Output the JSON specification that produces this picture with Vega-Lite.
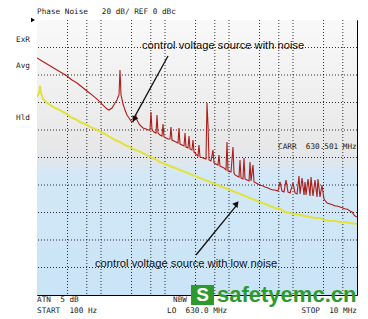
{
  "$schema": "https://vega.github.io/schema/vega-lite/v6.json",
  "width": 320,
  "height": 275,
  "autosize": "none",
  "padding": {"left": 37, "top": 20, "right": 11, "bottom": 24},
  "background": "#ffffff",
  "config": {
    "view": {"stroke": "#000000", "strokeWidth": 1},
    "axis": {"disable": true}
  },
  "datasets": {
    "red": [
      {"f":100,"db":-27.6},{"f":119.7,"db":-29.8},{"f":143.3,"db":-32.0},{"f":171.5,"db":-34.2},{"f":205.4,"db":-36.4},{"f":245.8,"db":-38.5},{"f":294.3,"db":-40.7},{"f":352.3,"db":-43.6},{"f":421.7,"db":-45.8},{"f":504.8,"db":-48.7},{"f":604.3,"db":-51.6},{"f":723.4,"db":-54.5},{"f":866.0,"db":-57.5},{"f":1000,"db":-60.4},{"f":1154.8,"db":-63.3},{"f":1240.9,"db":-64.7},{"f":1333.5,"db":-65.5},{"f":1485.5,"db":-64.0},{"f":1654.8,"db":-60.4},{"f":1778.3,"db":-58.2},{"f":1843.4,"db":-56.0},{"f":1911,"db":-54.5},{"f":1981,"db":-36.4},{"f":2053.5,"db":-54.5},{"f":2128.8,"db":-57.5},{"f":2206.7,"db":-61.1},{"f":2371.4,"db":-65.5},{"f":2548.3,"db":-69.1},{"f":2738.4,"db":-71.3},{"f":2942.7,"db":-73.5},{"f":3162.3,"db":-74.2},{"f":3398.2,"db":-71.3},{"f":3522.7,"db":-69.8},{"f":3651.7,"db":-72.7},{"f":3924.2,"db":-75.6},{"f":4217,"db":-77.1},{"f":4531.6,"db":-78.5},{"f":5048.1,"db":-79.3},{"f":5424.7,"db":-80.0},{"f":5829.4,"db":-80.0},{"f":6043,"db":-66.9},{"f":6264.3,"db":-80.0},{"f":6731.7,"db":-81.5},{"f":7233.9,"db":-82.2},{"f":7498.9,"db":-69.1},{"f":7773.7,"db":-82.2},{"f":8353.6,"db":-83.6},{"f":8976.9,"db":-84.4},{"f":9305.7,"db":-75.6},{"f":9646.6,"db":-85.1},{"f":10366,"db":-85.8},{"f":11140,"db":-86.5},{"f":11971,"db":-86.5},{"f":12409,"db":-77.8},{"f":12864,"db":-87.3},{"f":13824,"db":-88.0},{"f":14855,"db":-88.7},{"f":15963,"db":-89.5},{"f":16548,"db":-78.5},{"f":17154,"db":-90.2},{"f":18434,"db":-90.9},{"f":19810,"db":-91.6},{"f":20535,"db":-82.2},{"f":21288,"db":-92.4},{"f":22876,"db":-93.1},{"f":23714,"db":-84.4},{"f":24582,"db":-93.8},{"f":26416,"db":-94.5},{"f":27384,"db":-87.3},{"f":28387,"db":-96.0},{"f":30505,"db":-97.5},{"f":32781,"db":-98.9},{"f":33982,"db":-90.9},{"f":35227,"db":-99.6},{"f":39242,"db":-100.4},{"f":43714,"db":-101.1},{"f":45316,"db":-60.4},{"f":46976,"db":-76.4},{"f":48697,"db":-101.8},{"f":52330,"db":-102.5},{"f":56234,"db":-94.5},{"f":58294,"db":-104.0},{"f":62643,"db":-104.7},{"f":67317,"db":-105.5},{"f":69783,"db":-98.2},{"f":72339,"db":-106.2},{"f":77737,"db":-106.9},{"f":83536,"db":-107.6},{"f":89769,"db":-109.1},{"f":93057,"db":-88.7},{"f":96466,"db":-109.8},{"f":107460,"db":-110.5},{"f":115480,"db":-92.4},{"f":119710,"db":-111.3},{"f":124090,"db":-112.7},{"f":133350,"db":-113.5},{"f":143300,"db":-114.2},{"f":148550,"db":-101.8},{"f":153990,"db":-114.9},{"f":165480,"db":-115.6},{"f":171540,"db":-100.4},{"f":177830,"db":-115.6},{"f":191100,"db":-116.4},{"f":205350,"db":-117.1},{"f":212880,"db":-103.3},{"f":220670,"db":-117.1},{"f":237140,"db":-105.5},{"f":245820,"db":-117.8},{"f":264160,"db":-118.5},{"f":283870,"db":-119.3},{"f":305050,"db":-120.0},{"f":339820,"db":-120.7},{"f":365170,"db":-121.5},{"f":406790,"db":-122.2},{"f":437140,"db":-122.9},{"f":486970,"db":-123.6},{"f":523300,"db":-123.6},{"f":582940,"db":-124.4},{"f":626430,"db":-117.8},{"f":673170,"db":-124.4},{"f":723390,"db":-125.1},{"f":777370,"db":-116.4},{"f":835360,"db":-125.1},{"f":897690,"db":-125.8},{"f":1000000,"db":-118.5},{"f":1074600,"db":-125.8},{"f":1154800,"db":-126.5},{"f":1240900,"db":-113.5},{"f":1286400,"db":-126.5},{"f":1382400,"db":-114.9},{"f":1485500,"db":-127.3},{"f":1539900,"db":-117.8},{"f":1596300,"db":-127.3},{"f":1715400,"db":-115.6},{"f":1843400,"db":-128.0},{"f":1911000,"db":-114.2},{"f":2053500,"db":-128.0},{"f":2206700,"db":-116.4},{"f":2371400,"db":-128.7},{"f":2458200,"db":-115.6},{"f":2641600,"db":-128.7},{"f":2838700,"db":-120.0},{"f":3050500,"db":-130.2},{"f":3398200,"db":-133.1},{"f":3785500,"db":-133.8},{"f":4217000,"db":-134.5},{"f":4531600,"db":-135.3},{"f":4869700,"db":-135.3},{"f":5424700,"db":-136.0},{"f":6043000,"db":-136.7},{"f":6493800,"db":-137.5},{"f":6978300,"db":-137.5},{"f":7773700,"db":-138.9},{"f":8353600,"db":-139.6},{"f":8976900,"db":-141.8},{"f":9305700,"db":-142.5},{"f":10000000,"db":-143.3}
    ],
    "yellow": [
      {"f":100,"db":-56.0},{"f":107.5,"db":-53.1},{"f":111.4,"db":-48.0},{"f":115.5,"db":-53.1},{"f":124.1,"db":-57.5},{"f":138.2,"db":-59.6},{"f":159.6,"db":-61.8},{"f":191.1,"db":-64.0},{"f":228.8,"db":-65.5},{"f":254.8,"db":-66.9},{"f":294.3,"db":-68.4},{"f":327.8,"db":-70.5},{"f":392.4,"db":-72.0},{"f":469.8,"db":-74.2},{"f":562.3,"db":-75.6},{"f":673.2,"db":-77.8},{"f":805.8,"db":-79.3},{"f":866,"db":-80.0},{"f":1000,"db":-81.5},{"f":1154.8,"db":-82.9},{"f":1382.4,"db":-85.1},{"f":1654.8,"db":-87.3},{"f":1981,"db":-88.7},{"f":2371.4,"db":-90.9},{"f":2838.7,"db":-92.4},{"f":3398.2,"db":-94.5},{"f":4217,"db":-96.0},{"f":4869.7,"db":-97.5},{"f":5829.4,"db":-99.6},{"f":6978.3,"db":-101.1},{"f":8353.6,"db":-103.3},{"f":10000,"db":-104.7},{"f":11971,"db":-106.2},{"f":14330,"db":-107.6},{"f":17154,"db":-109.1},{"f":20535,"db":-110.5},{"f":24582,"db":-112.0},{"f":29427,"db":-113.5},{"f":35227,"db":-114.9},{"f":42170,"db":-116.4},{"f":50481,"db":-117.8},{"f":60430,"db":-119.3},{"f":72339,"db":-120.7},{"f":86596,"db":-122.2},{"f":103660,"db":-123.6},{"f":124090,"db":-125.1},{"f":148550,"db":-126.5},{"f":177830,"db":-128.0},{"f":212880,"db":-129.5},{"f":254830,"db":-130.9},{"f":305050,"db":-132.4},{"f":365170,"db":-133.8},{"f":437140,"db":-135.3},{"f":523300,"db":-136.7},{"f":626430,"db":-137.5},{"f":749890,"db":-139.6},{"f":897690,"db":-140.4},{"f":1074600,"db":-141.1},{"f":1286400,"db":-141.8},{"f":1539900,"db":-142.5},{"f":1843400,"db":-143.3},{"f":2206700,"db":-144.0},{"f":2641600,"db":-144.0},{"f":3162300,"db":-145.5},{"f":3785500,"db":-146.2},{"f":4531600,"db":-146.2},{"f":5424700,"db":-146.9},{"f":6493800,"db":-146.9},{"f":7773700,"db":-147.6},{"f":10000000,"db":-148.4}
    ],
    "gridX": [
      {"f":300},{"f":600},{"f":1000},{"f":3000},{"f":6000},{"f":10000},{"f":30000},{"f":60000},{"f":100000},{"f":300000},{"f":600000},{"f":1000000},{"f":3000000},{"f":6000000}
    ],
    "gridY": [
      {"db":-20},{"db":-40},{"db":-60},{"db":-80},{"db":-100},{"db":-120},{"db":-140},{"db":-160},{"db":-180}
    ],
    "monoLeft": [
      {"f":100,"db":5.5,"t":"Phase Noise\u00a0\u00a0\u00a020 dB/ REF 0 dBc"},
      {"f":100,"db":-203.6,"t":"ATN\u00a0\u00a05 dB"},
      {"f":100,"db":-211.6,"t":"START\u00a0\u00a0100 Hz"},
      {"f":13335,"db":-203.6,"t":"NBW"},
      {"f":10746,"db":-211.6,"t":"LO\u00a0\u00a0630.0 MHz"},
      {"f":582940,"db":-92.4,"t":"CARR\u00a0\u00a0630.501 MHz"}
    ],
    "monoRight": [
      {"f":77.7,"db":-14.5,"t":"ExR"},
      {"f":77.7,"db":-33.5,"t":"Avg"},
      {"f":77.7,"db":-71.3,"t":"Hld"},
      {"f":10000000,"db":-211.6,"t":"STOP\u00a0\u00a010 MHz"}
    ],
    "notes": [
      {"f":4371,"db":-18.9,"t":"control voltage source with noise"},
      {"f":805.8,"db":-177.5,"t":"control voltage source with low noise"}
    ]
  },
  "layer": [
    {
      "data": {"values": [{"f0":100,"f1":10000000,"d0":-200,"d1":0}]},
      "mark": {"type":"rect","color":{"gradient":"linear","x1":0,"y1":0,"x2":0,"y2":1,"stops":[{"offset":0,"color":"#f9f9f9"},{"offset":0.45,"color":"#e8e8e8"},{"offset":0.5,"color":"#e3e6ea"},{"offset":0.56,"color":"#d3e8f7"},{"offset":1,"color":"#c9e4f6"}]}},
      "encoding": {
        "x": {"field":"f0","type":"quantitative","title":null,"scale":{"type":"log","domain":[100,10000000],"nice":false}},
        "x2": {"field":"f1"},
        "y": {"field":"d0","type":"quantitative","title":null,"scale":{"domain":[-200,0],"nice":false,"zero":false}},
        "y2": {"field":"d1"}
      }
    },
    {
      "data": {"name":"gridX"},
      "mark": {"type":"rule","color":"#000000","strokeDash":[1,2],"strokeWidth":1,"opacity":0.8},
      "encoding": {
        "x": {"field":"f","type":"quantitative","title":null}
      }
    },
    {
      "data": {"name":"gridY"},
      "mark": {"type":"rule","color":"#000000","strokeDash":[1,2],"strokeWidth":1,"opacity":0.8},
      "encoding": {
        "y": {"field":"db","type":"quantitative","title":null}
      }
    },
    {
      "data": {"name":"yellow"},
      "mark": {"type":"line","color":"#e2e23c","strokeWidth":2,"clip":true},
      "encoding": {
        "x": {"field":"f","type":"quantitative","title":null},
        "y": {"field":"db","type":"quantitative","title":null}
      }
    },
    {
      "data": {"name":"red"},
      "mark": {"type":"line","color":"#b01c18","strokeWidth":1.1,"clip":true},
      "encoding": {
        "x": {"field":"f","type":"quantitative","title":null},
        "y": {"field":"db","type":"quantitative","title":null}
      }
    },
    {
      "data": {"values":[{"f":11140,"db":-26.2,"f2":3300,"db2":-71.0},{"f":30505,"db":-170.9,"f2":131000,"db2":-134.8}]},
      "mark": {"type":"rule","color":"#111111","strokeWidth":1.3},
      "encoding": {
        "x": {"field":"f","type":"quantitative","title":null},
        "y": {"field":"db","type":"quantitative","title":null},
        "x2": {"field":"f2"},
        "y2": {"field":"db2"}
      }
    },
    {
      "data": {"values":[{"f":3337,"db":-71.6}]},
      "mark": {"type":"point","shape":"triangle","filled":true,"color":"#111111","size":45,"angle":208.7,"opacity":1},
      "encoding": {
        "x": {"field":"f","type":"quantitative","title":null},
        "y": {"field":"db","type":"quantitative","title":null}
      }
    },
    {
      "data": {"values":[{"f":129100,"db":-134.1}]},
      "mark": {"type":"point","shape":"triangle","filled":true,"color":"#111111","size":45,"angle":38.4,"opacity":1},
      "encoding": {
        "x": {"field":"f","type":"quantitative","title":null},
        "y": {"field":"db","type":"quantitative","title":null}
      }
    },
    {
      "data": {"values":[{"f":86.6,"db":0}]},
      "mark": {"type":"point","shape":"triangle-right","filled":true,"color":"#000000","size":22,"opacity":1},
      "encoding": {
        "x": {"field":"f","type":"quantitative","title":null},
        "y": {"field":"db","type":"quantitative","title":null}
      }
    },
    {
      "data": {"name":"monoLeft"},
      "mark": {"type":"text","align":"left","baseline":"middle","font":"DejaVu Sans Mono","fontSize":7.7,"color":"#222222"},
      "encoding": {
        "x": {"field":"f","type":"quantitative","title":null},
        "y": {"field":"db","type":"quantitative","title":null},
        "text": {"field":"t"}
      }
    },
    {
      "data": {"name":"monoRight"},
      "mark": {"type":"text","align":"right","baseline":"middle","font":"DejaVu Sans Mono","fontSize":7.7,"color":"#222222"},
      "encoding": {
        "x": {"field":"f","type":"quantitative","title":null},
        "y": {"field":"db","type":"quantitative","title":null},
        "text": {"field":"t"}
      }
    },
    {
      "data": {"name":"notes"},
      "mark": {"type":"text","align":"left","baseline":"middle","font":"Liberation Sans","fontSize":11.2,"color":"#111111"},
      "encoding": {
        "x": {"field":"f","type":"quantitative","title":null},
        "y": {"field":"db","type":"quantitative","title":null},
        "text": {"field":"t"}
      }
    },
    {
      "data": {"values":[{"f0":25483,"f1":58294,"d0":-207.3,"d1":-192.7}]},
      "mark": {"type":"rect","color":"#2e9a2e"},
      "encoding": {
        "x": {"field":"f0","type":"quantitative","title":null},
        "x2": {"field":"f1"},
        "y": {"field":"d0","type":"quantitative","title":null},
        "y2": {"field":"d1"}
      }
    },
    {
      "data": {"values":[{"f":38540,"db":-200.2,"t":"S"}]},
      "mark": {"type":"text","align":"center","baseline":"middle","font":"Liberation Sans","fontWeight":"bold","fontSize":19,"color":"#ffffff"},
      "encoding": {
        "x": {"field":"f","type":"quantitative","title":null},
        "y": {"field":"db","type":"quantitative","title":null},
        "text": {"field":"t"}
      }
    },
    {
      "data": {"values":[{"f":64938,"db":-205.1,"t":"safetyemc.cn"}]},
      "mark": {"type":"text","align":"left","baseline":"alphabetic","font":"Liberation Sans","fontWeight":"bold","fontSize":22,"color":"#2e9a2e"},
      "encoding": {
        "x": {"field":"f","type":"quantitative","title":null},
        "y": {"field":"db","type":"quantitative","title":null},
        "text": {"field":"t"}
      }
    }
  ]
}
